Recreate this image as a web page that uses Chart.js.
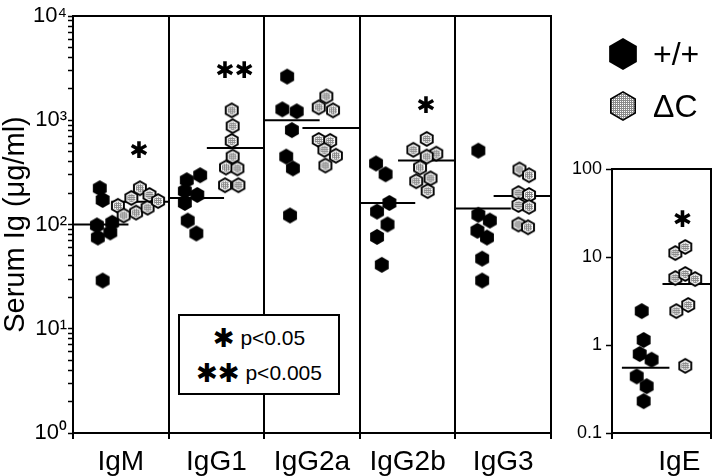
<!DOCTYPE html>
<html><head><meta charset="utf-8">
<script src="https://cdn.jsdelivr.net/npm/chart.js@4.4.1/dist/chart.umd.min.js"></script>
<style>
html,body{margin:0;padding:0;background:#fff;}
#wrap{position:relative;width:720px;height:476px;overflow:hidden;font-family:"Liberation Sans",Arial,Helvetica,sans-serif;color:#000;}
#wrap canvas.chart{position:absolute;top:0;}
#cMain{left:0;}
#cIge{left:560px;}
.leg{position:absolute;font-size:32px;line-height:32px;white-space:nowrap;}
.legIcon{position:absolute;}
#pbox{position:absolute;left:178px;top:314px;width:162px;height:81px;box-sizing:border-box;border:2px solid #000;background:#fff;}
#pbox .row{position:absolute;left:0;width:100%;text-align:center;font-size:21px;line-height:30px;white-space:nowrap;}
.st{font-family:"DejaVu Sans";font-weight:bold;font-size:26px;vertical-align:-2px;}
</style></head>
<body><div id="wrap">
<canvas class="chart" id="cMain" width="560" height="476"></canvas>
<canvas class="chart" id="cIge" width="160" height="476"></canvas>
<div id="pbox"></div>
</div>
<script>
// ---------------- data ----------------
const categories = ['IgM', 'IgG1', 'IgG2a', 'IgG2b', 'IgG3'];
const seriesNames = ['+/+', 'ΔC'];
const yTitle = 'Serum Ig (μg/ml)';
const yTickExponents = [0, 1, 2, 3, 4];
const igeCategory = 'IgE';
const igeTickValues = [0.1, 1, 10, 100];
const igeTickLabels = ['0.1', '1', '10', '100'];
const pLegend = [['*', 'p<0.05'], ['**', 'p<0.005']];

// +/+ values (µg/ml)
const wtIgM   = [223, 172, 98, 75, 104, 84, 29];
const wtIgG1  = [266, 297, 209, 192, 161, 109, 82];
const wtIgG2a = [2624, 1273, 1218, 805, 448, 345, 122];
const wtIgG2b = [385, 303, 161, 133, 100, 76, 41];
const wtIgG3  = [511, 124, 109, 87, 75, 47, 29];
const wtIgE   = [2.43, 1.14, 0.79, 0.68, 0.44, 0.34, 0.23];
// ΔC values (µg/ml)
const dcIgM   = [151, 122, 180, 130, 223, 145, 192, 168];
const dcIgG1  = [1245, 878, 634, 448, 352, 345, 238, 238];
const dcIgG2a = [1693, 1330, 1245, 647, 634, 521, 457, 368];
const dcIgG2b = [662, 521, 478, 448, 352, 260, 277, 209];
const dcIgG3  = [337, 297, 200, 192, 154, 148, 100, 94];
const dcIgE   = [11.1, 13.0, 5.77, 6.41, 5.62, 2.43, 2.85, 0.58];

// where each dot sits across its column (0 = left edge, 1 = right edge)
const wtIgMJitter   = [0.28, 0.31, 0.25, 0.26, 0.41, 0.39, 0.31];
const wtIgG1Jitter  = [0.19, 0.33, 0.17, 0.30, 0.17, 0.20, 0.29];
const wtIgG2aJitter = [0.24, 0.19, 0.34, 0.29, 0.23, 0.30, 0.27];
const wtIgG2bJitter = [0.17, 0.27, 0.31, 0.18, 0.29, 0.18, 0.23];
const wtIgG3Jitter  = [0.24, 0.24, 0.36, 0.23, 0.33, 0.28, 0.28];
const wtIgEJitter   = [0.30, 0.32, 0.28, 0.40, 0.25, 0.35, 0.32];
const dcIgMJitter   = [0.47, 0.53, 0.61, 0.66, 0.70, 0.78, 0.80, 0.89];
const dcIgG1Jitter  = [0.66, 0.67, 0.66, 0.67, 0.60, 0.72, 0.59, 0.73];
const dcIgG2aJitter = [0.65, 0.57, 0.72, 0.57, 0.69, 0.63, 0.75, 0.64];
const dcIgG2bJitter = [0.70, 0.56, 0.80, 0.70, 0.63, 0.59, 0.74, 0.71];
const dcIgG3Jitter  = [0.67, 0.77, 0.66, 0.77, 0.66, 0.77, 0.66, 0.76];
const dcIgEJitter   = [0.64, 0.74, 0.64, 0.74, 0.84, 0.65, 0.77, 0.74];

// medians (horizontal bars)
const wtMedians = [100, 180, 1000, 161, 142];
const dcMedians = [165, 541, 841, 410, 188];
const wtIgEMedian = 0.55;
const dcIgEMedian = 4.93;

// significance marks and the level they are printed at
const sigMarks = ['*', '**', '', '*', ''];
const sigLevels = [500, 2930, null, 1330, null];
const igeSigMark = '*';
const igeSigLevel = 25.6;

// ---------------- drawing ----------------
Chart.defaults.font.family = '"Liberation Sans", Arial, Helvetica, sans-serif';
Chart.defaults.color = '#000';
const sup = {0: '⁰', 1: '¹', 2: '²', 3: '³', 4: '⁴'};
const STAR = '✱';

function stipple() {
  const p = document.createElement('canvas'); p.width = 2; p.height = 2;
  const c = p.getContext('2d');
  c.fillStyle = '#8a8a8a'; c.fillRect(0, 0, 2, 2);
  c.fillStyle = '#ffffff'; c.fillRect(1, 1, 1, 1);
  return p;
}
function hexPath(c, cx, cy, r) {
  c.beginPath();
  for (let k = 0; k < 6; k++) {
    const a = (-90 + 60 * k) * Math.PI / 180;
    const x = cx + r * Math.cos(a), y = cy + r * Math.sin(a);
    if (k === 0) c.moveTo(x, y); else c.lineTo(x, y);
  }
  c.closePath();
}
function makeHex(kind, r, big) {
  const cv = document.createElement('canvas');
  cv.width = Math.ceil(2 * r * Math.cos(Math.PI / 6)) + 2;
  cv.height = Math.ceil(2 * r) + 2;
  const c = cv.getContext('2d');
  const cx = cv.width / 2, cy = cv.height / 2;
  c.fillStyle = '#000'; hexPath(c, cx, cy, r); c.fill();
  if (kind === 'grey') {
    const pat = c.createPattern(stipple(), 'repeat');
    if (big) {
      c.fillStyle = pat; hexPath(c, cx, cy, r - 1.8); c.fill();
    } else {
      c.fillStyle = '#fff'; hexPath(c, cx, cy, r - 2.2); c.fill();
      c.fillStyle = pat; hexPath(c, cx, cy, r - 3.4); c.fill();
    }
  }
  return cv;
}
const hexBlack = makeHex('black', 8);
const hexGrey = makeHex('grey', 8);

function pts(values, jitter, col) { return values.map((v, k) => ({x: col + jitter[k], y: v})); }
const wtAll = [[wtIgM, wtIgMJitter], [wtIgG1, wtIgG1Jitter], [wtIgG2a, wtIgG2aJitter], [wtIgG2b, wtIgG2bJitter], [wtIgG3, wtIgG3Jitter]];
const dcAll = [[dcIgM, dcIgMJitter], [dcIgG1, dcIgG1Jitter], [dcIgG2a, dcIgG2aJitter], [dcIgG2b, dcIgG2bJitter], [dcIgG3, dcIgG3Jitter]];

const wtPoints = [].concat(...wtAll.map((d, i) => pts(d[0], d[1], i)));
const dcPoints = [].concat(...dcAll.map((d, i) => pts(d[0], d[1], i)));

function medianSet(y, x0, x1) {
  return {type: 'scatter', showLine: true, data: [{x: x0, y}, {x: x1, y}], borderColor: '#000', borderWidth: 2,
    pointRadius: 0, order: 5};
}
const mainSets = [];
wtMedians.forEach((m, i) => mainSets.push(medianSet(m, i, i + 0.58)));
dcMedians.forEach((m, i) => mainSets.push(medianSet(m, i + 0.4, i + 1)));
mainSets.push({data: dcPoints, pointStyle: hexGrey, pointRadius: 8, order: 1});
mainSets.push({data: wtPoints, pointStyle: hexBlack, pointRadius: 8, order: 0});

const framePlugin = {
  id: 'frame',
  beforeDatasetsDraw(chart) {
    const {ctx, chartArea: a} = chart;
    ctx.save(); ctx.strokeStyle = '#000'; ctx.lineWidth = 2;
    ctx.strokeRect(a.left, a.top, a.right - a.left, a.bottom - a.top);
    ctx.restore();
  }
};
function starPlugin(marks) {
  return {
    id: 'stars',
    afterDatasetsDraw(chart) {
      const {ctx, scales} = chart;
      ctx.save();
      ctx.font = 'bold 23px "DejaVu Sans"';
      ctx.fillStyle = '#000'; ctx.textAlign = 'center'; ctx.textBaseline = 'middle';
      marks.forEach(m => {
        if (!m.mark) return;
        ctx.fillText(m.mark.replace(/\*/g, STAR), scales.x.getPixelForValue(m.x), scales.y.getPixelForValue(m.y));
      });
      ctx.restore();
    }
  };
}
const mainMarks = sigMarks.map((s, i) => ({mark: s, x: i + 0.69, y: sigLevels[i]}));

const mainYTicks = [];
yTickExponents.forEach(e => {
  if (e === yTickExponents[yTickExponents.length - 1]) { mainYTicks.push(Math.pow(10, e)); return; }
  for (let s = 1; s <= 9; s++) mainYTicks.push(s * Math.pow(10, e));
});

const sepColor = c => (c.tick && Number.isInteger(c.tick.value)) ? '#000' : 'rgba(0,0,0,0)';

new Chart(document.getElementById('cMain'), {
  type: 'scatter',
  data: {datasets: mainSets},
  plugins: [framePlugin, starPlugin(mainMarks)],
  options: {
    responsive: false, animation: false, events: [],
    layout: {padding: {top: 16, right: 8, left: 0, bottom: 0}},
    plugins: {legend: {display: false}, tooltip: {enabled: false}},
    scales: {
      x: {
        type: 'linear', min: 0, max: categories.length, position: 'bottom',
        afterBuildTicks: s => { const t = []; for (let v = 0; v <= categories.length; v += 0.5) t.push({value: v}); s.ticks = t; },
        afterFit: s => { s.height = 43; },
        ticks: {autoSkip: false, maxRotation: 0, padding: 6, font: {size: 28},
          callback: v => Number.isInteger(v) ? '' : categories[Math.floor(v)]},
        grid: {drawOnChartArea: true, color: sepColor, tickColor: sepColor, lineWidth: 2, tickWidth: 2, tickLength: 6},
        border: {display: true, color: '#000', width: 2}
      },
      y: {
        type: 'logarithmic', min: 1, max: 10000,
        afterBuildTicks: s => { s.ticks = mainYTicks.map(v => ({value: v, major: false})); },
        afterFit: s => { s.width = 73; },
        ticks: {autoSkip: false, padding: 1, font: {size: 22},
          callback: v => { const e = Math.round(Math.log10(v)); return Math.abs(v - Math.pow(10, e)) < 1e-6 * v ? '10' + sup[e] : ''; }},
        grid: {drawOnChartArea: false, tickLength: 5, tickColor: '#000', tickWidth: 1.5},
        border: {display: true, color: '#000', width: 2},
        title: {display: true, text: yTitle, font: {size: 29, lineHeight: 1}, padding: {top: 1, bottom: 0}}
      }
    }
  }
});

// ----- IgE panel -----
const igeSets = [
  medianSet(wtIgEMedian, 0.1, 0.58),
  medianSet(dcIgEMedian, 0.51, 1),
  {data: pts(dcIgE, dcIgEJitter, 0), pointStyle: hexGrey, pointRadius: 8, order: 1},
  {data: pts(wtIgE, wtIgEJitter, 0), pointStyle: hexBlack, pointRadius: 8, order: 0}
];
const igeEdge = c => (c.tick && (c.tick.value === 0 || c.tick.value === 1)) ? '#000' : 'rgba(0,0,0,0)';
new Chart(document.getElementById('cIge'), {
  type: 'scatter',
  data: {datasets: igeSets},
  plugins: [framePlugin, starPlugin([{mark: igeSigMark, x: 0.71, y: igeSigLevel}])],
  options: {
    responsive: false, animation: false, events: [],
    layout: {padding: {top: 169, right: 6, left: 0, bottom: 0}},
    plugins: {legend: {display: false}, tooltip: {enabled: false}},
    scales: {
      x: {
        type: 'linear', min: 0, max: 1,
        afterBuildTicks: s => { s.ticks = [{value: 0}, {value: 0.68}, {value: 1}]; },
        afterFit: s => { s.height = 43; },
        ticks: {autoSkip: false, maxRotation: 0, padding: 6, font: {size: 28},
          callback: v => (v > 0 && v < 1) ? igeCategory : ''},
        grid: {drawOnChartArea: false, color: igeEdge, tickColor: igeEdge, lineWidth: 2, tickWidth: 2, tickLength: 6},
        border: {display: true, color: '#000', width: 2}
      },
      y: {
        type: 'logarithmic', min: igeTickValues[0], max: igeTickValues[igeTickValues.length - 1],
        afterBuildTicks: s => { s.ticks = igeTickValues.map(v => ({value: v})); },
        afterFit: s => { s.width = 52; },
        ticks: {autoSkip: false, padding: 4, font: {size: 18},
          callback: (v, i) => igeTickLabels[igeTickValues.indexOf(v)] ?? ''},
        grid: {drawOnChartArea: false, tickLength: 6, tickColor: '#000', tickWidth: 1.5},
        border: {display: true, color: '#000', width: 2}
      }
    }
  }
});

// ----- legends (HTML text) -----
const wrap = document.getElementById('wrap');
const legIcons = [makeHex('black', 16, true), makeHex('grey', 15, true)];
const legY = [54, 106];
seriesNames.forEach((n, i) => {
  const ic = legIcons[i];
  ic.className = 'legIcon';
  ic.style.left = (623 - ic.width / 2) + 'px';
  ic.style.top = (legY[i] - ic.height / 2) + 'px';
  wrap.appendChild(ic);
  const t = document.createElement('div');
  t.className = 'leg'; t.textContent = n;
  t.style.left = '653px'; t.style.top = (legY[i] - 16) + 'px';
  wrap.appendChild(t);
});
const pbox = document.getElementById('pbox');
const rowTops = [7, 42];
pLegend.forEach((r, i) => {
  const d = document.createElement('div');
  d.className = 'row'; d.style.top = rowTops[i] + 'px';
  const s = document.createElement('span'); s.className = 'st'; s.textContent = r[0].replace(/\*/g, STAR);
  d.appendChild(s);
  d.appendChild(document.createTextNode(' ' + r[1]));
  pbox.appendChild(d);
});
</script>
</body></html>
